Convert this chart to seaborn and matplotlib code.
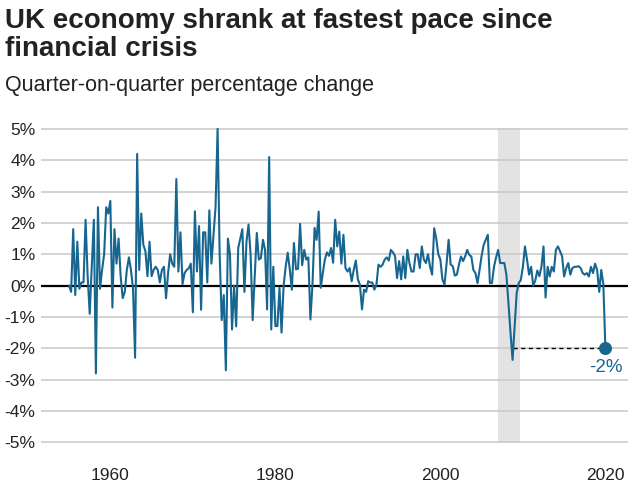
import numpy as np
import pandas as pd
import matplotlib
matplotlib.use("Agg")
import matplotlib.pyplot as plt
import seaborn as sns

# -----------------------------------
# Data: UK GDP, quarter-on-quarter % change, 1955 Q1 - 2020 Q1
# -----------------------------------

start_year = 1955

growth = [
    0.0, -0.2, 1.8, -0.3,      # 1955
    1.4, -0.1, 0.1, 0.1,       # 1956
    2.1, 0.3, -0.9, 0.6,       # 1957
    2.1, -2.8, 2.5, -0.1,      # 1958
    0.5, 1.0, 2.5, 2.3,        # 1959
    2.7, -0.7, 1.8, 0.7,       # 1960
    1.5, 0.3, -0.4, -0.2,      # 1961
    0.5, 0.9, 0.5, -0.1,       # 1962
    -2.3, 4.2, 0.5, 2.3,       # 1963
    1.3, 1.1, 0.3, 1.4,        # 1964
    0.3, 0.5, 0.6, 0.5,        # 1965
    0.1, 0.5, 0.6, -0.4,       # 1966
    0.4, 1.0, 0.7, 0.6,        # 1967
    3.4, 0.45, 1.7, 0.05,      # 1968
    0.4, 0.5, 0.55, 0.7,       # 1969
    -0.85, 2.37, 0.45, 1.9,    # 1970
    -0.77, 1.7, 1.7, 0.1,      # 1971
    2.4, 0.7, 1.6, 2.5,        # 1972
    5.0, 1.0, -1.1, -0.3,      # 1973
    -2.7, 1.5, 1.0, -1.4,      # 1974
    0.0, -1.3, 1.2, 1.5,       # 1975
    1.8, -0.2, 1.4, 1.95,      # 1976
    1.0, -1.1, 0.3, 1.68,      # 1977
    0.83, 0.88, 1.46, 1.14,    # 1978
    -0.76, 4.1, -1.4, 0.6,     # 1979
    -1.29, -1.29, -0.07, -1.5, # 1980
    0.0, 0.6, 1.05, 0.52,      # 1981
    -0.13, 1.36, 0.52, 0.54,   # 1982
    1.97, 0.65, 1.14, 0.83,    # 1983
    0.9, -1.08, 0.03, 1.84,    # 1984
    1.46, 2.36, -0.07, 0.4,    # 1985
    0.83, 1.06, 0.95, 1.2,     # 1986
    0.73, 2.1, 1.25, 1.72,     # 1987
    0.7, 1.62, 0.56, 0.45,     # 1988
    0.56, 0.14, 0.5, 0.8,      # 1989
    0.2, 0.03, -0.76, -0.13,   # 1990
    -0.2, 0.14, 0.1, 0.1,      # 1991
    -0.13, 0.03, 0.67, 0.6,    # 1992
    0.67, 0.83, 0.9, 0.8,      # 1993
    1.14, 1.06, 0.95, 0.24,    # 1994
    0.78, 0.2, 0.93, 0.24,     # 1995
    1.14, 0.72, 0.45, 0.45,    # 1996
    1.0, 1.0, 0.56, 1.25,      # 1997
    0.83, 0.72, 1.0, 0.6,      # 1998
    0.35, 1.83, 1.5, 1.0,      # 1999
    0.83, 0.19, 0.03, 0.7,     # 2000
    1.46, 0.67, 0.62, 0.32,    # 2001
    0.35, 0.67, 0.93, 0.78,    # 2002
    0.93, 1.14, 0.98, 0.93,    # 2003
    0.5, 0.4, 0.08, 0.5,       # 2004
    0.95, 1.3, 1.46, 1.62,     # 2005
    0.08, 0.08, 0.6, 0.9,      # 2006
    1.14, 0.72, 0.72, 0.72,    # 2007
    0.35, -0.55, -1.5, -2.37,  # 2008
    -1.3, -0.23, 0.08, 0.18,   # 2009
    0.6, 1.25, 0.83, 0.35,     # 2010
    0.6, 0.0, 0.16, 0.48,      # 2011
    0.3, 0.6, 1.25, -0.38,     # 2012
    0.6, 0.29, 0.6, 0.45,      # 2013
    1.14, 1.25, 1.1, 0.94,     # 2014
    0.29, 0.56, 0.72, 0.35,    # 2015
    0.56, 0.6, 0.6, 0.62,      # 2016
    0.56, 0.4, 0.35, 0.4,      # 2017
    0.29, 0.6, 0.4, 0.7,       # 2018
    0.5, -0.2, 0.5, 0.05,      # 2019
    -2.0,                      # 2020 Q1
]

crisis_span = [2007.0, 2009.65]
crisis_trough_year = 2008.75
latest_label = "-2%"

year_ticks = [1960, 1980, 2000, 2020]
pct_ticks = [5, 4, 3, 2, 1, 0, -1, -2, -3, -4, -5]

title = "UK economy shrank at fastest pace since\nfinancial crisis"
subtitle = "Quarter-on-quarter percentage change"

df = pd.DataFrame({
    "Year": start_year + np.arange(len(growth)) / 4,
    "Growth": growth
})

# -----------------------------------
# Plot
# -----------------------------------

sns.set_style("white")
plt.rcParams["font.family"] = ["Liberation Sans", "DejaVu Sans"]

line_colour = "#176690"

fig = plt.figure(figsize=(6.37, 4.95), dpi=100)
ax = fig.add_axes([0.0644, 0.105, 0.9216, 0.636])

ax.axvspan(
    crisis_span[0],
    crisis_span[1],
    color="#e3e3e3",
    zorder=0,
    linewidth=0
)

for t in pct_ticks:
    if t != 0:
        ax.axhline(t, color="#cccccc", linewidth=1.2, zorder=1)

ax.axhline(0, color="black", linewidth=1.6, zorder=2)

sns.lineplot(
    data=df,
    x="Year",
    y="Growth",
    color=line_colour,
    linewidth=1.5,
    ax=ax,
    zorder=3
)

last_year = df["Year"].iloc[-1]
last_value = df["Growth"].iloc[-1]

ax.plot(
    [crisis_trough_year, last_year],
    [last_value, last_value],
    color="black",
    linestyle=(0, (3, 2.5)),
    linewidth=1.0,
    zorder=2
)

ax.scatter(
    [last_year],
    [last_value],
    s=70,
    color=line_colour,
    zorder=4
)

ax.text(
    last_year,
    last_value - 0.33,
    latest_label,
    color=line_colour,
    fontsize=13.5,
    ha="center",
    va="top"
)

ax.set_xlim(1951.6, 2022.75)
ax.set_ylim(-5.02, 5.02)

ax.set_xticks(year_ticks)
ax.set_xticklabels([str(y) for y in year_ticks])
ax.set_yticks(pct_ticks)
ax.set_yticklabels([f"{t}%" for t in pct_ticks])

ax.tick_params(axis="both", length=0, labelsize=12.5, colors="#222222")
ax.tick_params(axis="x", pad=18)
ax.tick_params(axis="y", pad=4)

for label in ax.get_yticklabels():
    label.set_horizontalalignment("right")

sns.despine(ax=ax, left=True, bottom=True)
ax.set_xlabel("")
ax.set_ylabel("")

fig.text(
    0.008, 0.984,
    title,
    fontsize=20,
    fontweight="bold",
    color="#222222",
    va="top",
    ha="left",
    linespacing=1.12
)

fig.text(
    0.008, 0.848,
    subtitle,
    fontsize=15.5,
    color="#222222",
    va="top",
    ha="left"
)

fig.savefig("out.png", dpi=100)
